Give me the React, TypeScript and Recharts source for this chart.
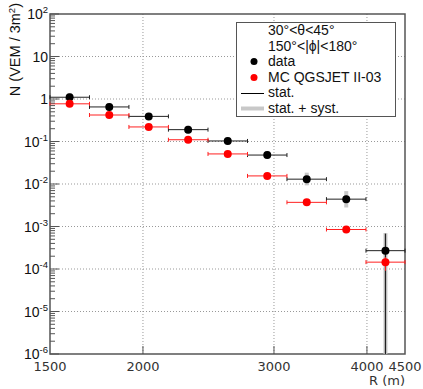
import React from 'react';
import {
  CartesianGrid,
  ComposedChart,
  ErrorBar,
  Legend,
  ReferenceArea,
  Scatter,
  XAxis,
  YAxis
} from 'recharts';

// radial bins (m), log-spaced from 1500 to 4500
const binLow = [1500, 1695, 1915, 2164, 2446, 2764, 3123, 3529, 3988];
const binHigh = [1695, 1915, 2164, 2446, 2764, 3123, 3529, 3988, 4500];
const binCenter = [1594, 1802, 2036, 2300, 2600, 2938, 3320, 3752, 4236];

// measured signal
const dataN = [1.1, 0.65, 0.39, 0.19, 0.103, 0.048, 0.013, 0.0044, 0.00027];
const dataStatLow = [1.05, 0.62, 0.37, 0.18, 0.097, 0.045, 0.0115, 0.0036, 0.000001];
const dataStatHigh = [1.15, 0.68, 0.41, 0.2, 0.109, 0.051, 0.0146, 0.0053, 0.00068];
const dataSystLow = [0.86, 0.53, 0.32, 0.155, 0.085, 0.039, 0.0093, 0.0028, 0.000001];
const dataSystHigh = [1.38, 0.8, 0.47, 0.235, 0.125, 0.06, 0.0185, 0.0068, 0.0007];

// simulation
const mcN = [0.77, 0.42, 0.22, 0.11, 0.051, 0.0155, 0.0037, 0.00085, 0.000145];
const mcLow = [0.75, 0.41, 0.215, 0.107, 0.0497, 0.015, 0.0036, 0.00082, 0.000091];
const mcHigh = [0.79, 0.43, 0.225, 0.113, 0.0523, 0.016, 0.0038, 0.00088, 0.00019];

const xTicks = [1500, 2000, 3000, 4000, 4500];
const xMajorMarks = [2000, 3000, 4000];
const yMajor = [100, 10, 1, 0.1, 0.01, 0.001, 0.0001, 0.00001, 0.000001];
const yExponents = [2, 1, 0, -1, -2, -3, -4, -5, -6];
const minorMult = [2, 3, 4, 5, 6, 7, 8, 9];
const yMinor = yMajor.slice(1).flatMap((d) => minorMult.map((m) => m * d));
const gridY = [10, 1, 0.1, 0.01, 0.001, 0.0001, 0.00001];
const gridX = [2000, 3000, 4000];

const dataPoints = binCenter.map((r, i) => ({
  r,
  n: dataN[i],
  ex: [r - binLow[i], binHigh[i] - r],
  stat: [dataN[i] - dataStatLow[i], dataStatHigh[i] - dataN[i]],
  syst: [dataN[i] - dataSystLow[i], dataSystHigh[i] - dataN[i]]
}));

const mcPoints = binCenter.map((r, i) => ({
  r,
  n: mcN[i],
  ex: [r - binLow[i], binHigh[i] - r],
  ey: [mcN[i] - mcLow[i], mcHigh[i] - mcN[i]]
}));

const FRAME = '#555';
const SANS = '"Liberation Sans", Arial, sans-serif';
const DEJAVU = '"DejaVu Sans", sans-serif';
const Y_MARGIN = 2;

const YTick = (props: any) => {
  const { x, y, payload } = props;
  const v = payload.value;
  const axisX = x + Y_MARGIN;
  const idx = yMajor.findIndex((m) => Math.abs(Math.log10(v) - Math.log10(m)) < 1e-6);
  if (idx < 0) {
    return <line x1={axisX} x2={axisX + 5} y1={y} y2={y} stroke={FRAME} strokeWidth={1} />;
  }
  const e = yExponents[idx];
  return (
    <g>
      <line x1={axisX} x2={axisX + 9} y1={y} y2={y} stroke={FRAME} strokeWidth={1} />
      <text x={x} y={y + 5} textAnchor="end" fontSize={14} fontFamily={SANS} fill="#111">
        {e === 0 ? '1' : '10'}
        {e !== 0 && e !== 1 ? (
          <tspan dy={-6} fontSize={9.5}>
            {String(e)}
          </tspan>
        ) : null}
      </text>
    </g>
  );
};

const XTick = (props: any) => {
  const { x, y, payload } = props;
  const v = payload.value;
  return (
    <g>
      {xMajorMarks.includes(v) ? (
        <line x1={x} x2={x} y1={y} y2={y - 8} stroke={FRAME} strokeWidth={1} />
      ) : null}
      <text x={x} y={y + 17} textAnchor="middle" fontSize={13} fontFamily={DEJAVU} fill="#333">
        {String(v)}
      </text>
    </g>
  );
};

const YLabel = (props: any) => {
  const { viewBox } = props;
  const x = viewBox.x + 20;
  const y = viewBox.y - 11;
  return (
    <text
      x={x}
      y={y}
      transform={`rotate(-90 ${x} ${y})`}
      textAnchor="end"
      fontSize={14.5}
      fontFamily={SANS}
      fill="#111"
    >
      N (VEM / 3m
      <tspan dy={-5} fontSize={9.5}>2</tspan>
      <tspan dy={5}>)</tspan>
    </text>
  );
};

const XLabel = (props: any) => {
  const { viewBox } = props;
  return (
    <text
      x={viewBox.x + viewBox.width}
      y={viewBox.y + 31}
      textAnchor="end"
      fontSize={13}
      fontFamily={DEJAVU}
      fill="#333"
    >
      R (m)
    </text>
  );
};

const legendRows = [
  { kind: 'none', text: '30°<θ<45°' },
  { kind: 'none', text: '150°<|ϕ|<180°' },
  { kind: 'dot', color: '#000', text: 'data' },
  { kind: 'dot', color: '#ff0000', text: 'MC QGSJET II-03' },
  { kind: 'line', color: '#000', text: 'stat.' },
  { kind: 'band', color: '#c8c8c8', text: 'stat. + syst.' }
];

const LegendBox = () => (
  <div
    style={{
      boxSizing: 'border-box',
      width: 160,
      height: 95,
      border: `1.5px solid ${FRAME}`,
      background: '#fff',
      fontFamily: SANS,
      fontSize: 14,
      lineHeight: '15.6px',
      color: '#111'
    }}
  >
    {legendRows.map((row, i) => (
      <div key={i} style={{ display: 'flex', alignItems: 'center', height: 15.6 }}>
        <svg width={31} height={15} style={{ flex: 'none' }}>
          {row.kind === 'dot' ? <circle cx={17} cy={7.5} r={3.5} fill={row.color} /> : null}
          {row.kind === 'line' ? <line x1={4} x2={27} y1={7.5} y2={7.5} stroke={row.color} strokeWidth={1} /> : null}
          {row.kind === 'band' ? <line x1={4} x2={27} y1={7.5} y2={7.5} stroke={row.color} strokeWidth={4} /> : null}
        </svg>
        <span style={{ whiteSpace: 'nowrap' }}>{row.text}</span>
      </div>
    ))}
  </div>
);

const Dot = (color: string) => (props: any) => (
  <circle cx={props.cx} cy={props.cy} r={4} fill={color} />
);

export default function App() {
  return (
    <div style={{ position: 'absolute', left: 0, top: 0, background: '#fff' }}>
      <ComposedChart
        width={423}
        height={389}
        margin={{ top: 14, right: 18, bottom: 0, left: 0 }}
      >
        <CartesianGrid
          stroke="#999"
          strokeDasharray="1 2"
          horizontalValues={gridY}
          verticalValues={gridX}
        />
        <XAxis
          dataKey="r"
          type="number"
          scale="log"
          domain={[1500, 4500]}
          allowDataOverflow
          ticks={xTicks}
          interval={0}
          height={35}
          tickSize={0}
          tickMargin={0}
          axisLine={false}
          tick={<XTick />}
          label={<XLabel />}
        />
        <YAxis
          dataKey="n"
          type="number"
          scale="log"
          domain={[1e-6, 100]}
          allowDataOverflow
          ticks={[...yMajor, ...yMinor]}
          interval={0}
          width={50}
          tickSize={0}
          tickMargin={Y_MARGIN}
          axisLine={false}
          tick={<YTick />}
          label={<YLabel />}
        />
        <ReferenceArea
          x1={1500}
          x2={4500}
          y1={1e-6}
          y2={100}
          fill="none"
          stroke={FRAME}
          strokeWidth={1.5}
          fillOpacity={0}
        />
        <Scatter data={dataPoints} dataKey="n" isAnimationActive={false} shape={Dot('#000')}>
          <ErrorBar dataKey="syst" direction="y" stroke="#c8c8c8" strokeWidth={4} width={0} isAnimationActive={false} />
          <ErrorBar dataKey="ex" direction="x" stroke="#222" strokeWidth={1} width={2} isAnimationActive={false} />
          <ErrorBar dataKey="stat" direction="y" stroke="#222" strokeWidth={1.2} width={0} isAnimationActive={false} />
        </Scatter>
        <Scatter data={mcPoints} dataKey="n" isAnimationActive={false} shape={Dot('#ff0000')}>
          <ErrorBar dataKey="ex" direction="x" stroke="#ff2020" strokeWidth={1} width={2} isAnimationActive={false} />
          <ErrorBar dataKey="ey" direction="y" stroke="#ff2020" strokeWidth={1} width={0} isAnimationActive={false} />
        </Scatter>
        <Legend
          layout="vertical"
          align="center"
          verticalAlign="middle"
          wrapperStyle={{ position: 'absolute', left: 236, top: 22, width: 160, height: 95 }}
          content={<LegendBox />}
        />
      </ComposedChart>
    </div>
  );
}
